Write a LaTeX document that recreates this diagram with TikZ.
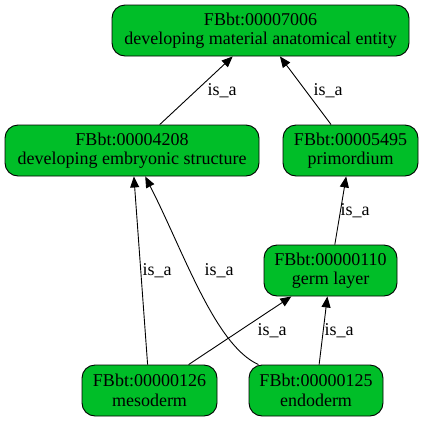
\documentclass[tikz,border=0pt]{standalone}
\usepackage{fontspec}
\setmainfont{Liberation Serif}
\usepackage{tikz}
\usepackage{xcolor}
\usetikzlibrary{positioning,arrows.meta,shapes,calc}
\definecolor{termgreen}{RGB}{0,190,40}

\begin{document}
\begin{tikzpicture}[x=1pt,y=-1pt,
    term/.style={draw,fill=termgreen,rounded corners=13pt,align=center,
        minimum height=51pt,inner xsep=10pt,line width=0.9pt,
        font=\rmfamily\fontsize{18}{19.5}\selectfont},
    isa/.style={font=\rmfamily\fontsize{18}{19.5}\selectfont,inner sep=0pt},
    rel/.style={-{Triangle[length=11pt,width=9pt]},line width=0.9pt}]
    \useasboundingbox (0,0) rectangle (423,421);
    % Terms
    \node[term,minimum width=297pt] (t7006) at (260.5,30.5) {FBbt:00007006\\developing material anatomical entity};
    \node[term,minimum width=254pt] (t4208) at (132,150.5) {FBbt:00004208\\developing embryonic structure};
    \node[term,minimum width=135pt] (t5495) at (350.5,150.5) {FBbt:00005495\\primordium};
    \node[term,minimum width=133pt] (t0110) at (330.5,270.5) {FBbt:00000110\\germ layer};
    \node[term,minimum width=135pt] (t0126) at (149.5,390.5) {FBbt:00000126\\mesoderm};
    \node[term,minimum width=134pt] (t0125) at (316,390.5) {FBbt:00000125\\endoderm};

    % is_a relations
    \draw[rel] (t4208) -- (t7006);
    \draw[rel] (t5495) -- (t7006);
    \draw[rel] (t0110) -- (t5495);
    \draw[rel] (t0126) -- (t4208);
    \draw[rel] (t0125) .. controls (215,345) and (184,252.5) .. (t4208);
    \draw[rel] (t0126) -- (t0110);
    \draw[rel] (t0125) -- (t0110);

    % Labels
    \node[isa] (l1) at (222,91) {is\_a};
    \node[isa] (l2) at (328,91) {is\_a};
    \node[isa] (l3) at (355,211) {is\_a};
    \node[isa] (l4) at (157,271) {is\_a};
    \node[isa] (l5) at (219,271) {is\_a};
    \node[isa] (l6) at (272,331) {is\_a};
    \node[isa] (l7) at (339,331) {is\_a};
\end{tikzpicture}
\end{document}
